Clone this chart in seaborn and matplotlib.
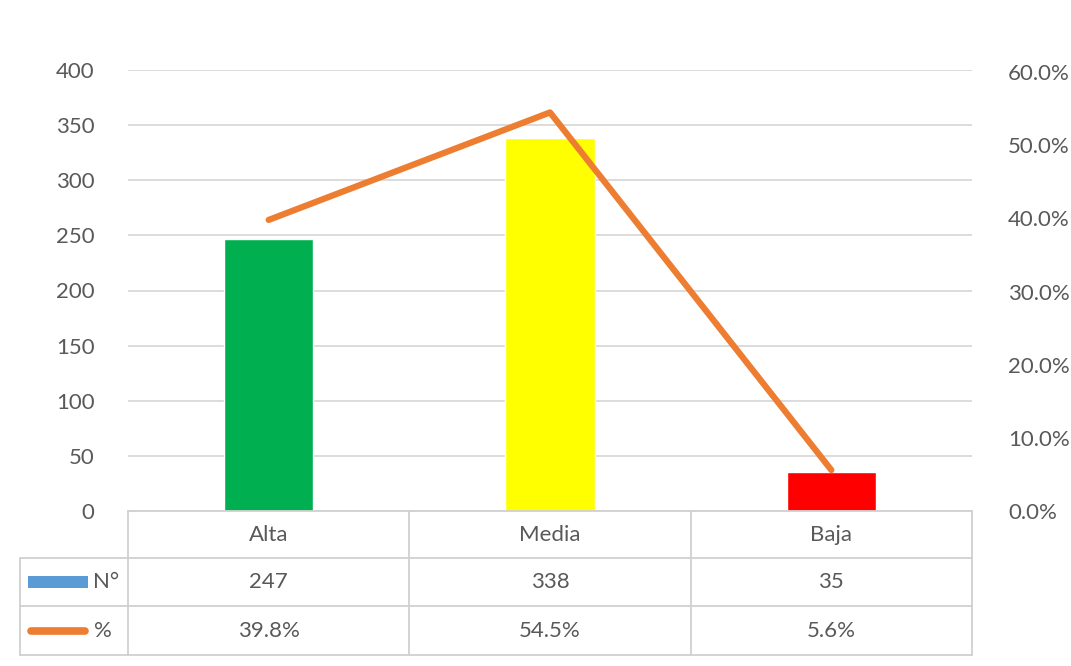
import matplotlib
matplotlib.use("Agg")
import matplotlib.pyplot as plt
import seaborn as sns
import pandas as pd
from matplotlib.lines import Line2D
from matplotlib.patches import Rectangle

categories = ["Alta", "Media", "Baja"]
counts = [247, 338, 35]
percents = [0.398, 0.545, 0.056]
count_labels = ["247", "338", "35"]
percent_labels = ["39.8%", "54.5%", "5.6%"]
bar_colors = ["#00B050", "#FFFF00", "#FF0000"]
series_names = ["N°", "%"]
left_ticks = [0, 50, 100, 150, 200, 250, 300, 350, 400]
right_ticks = [0.0, 0.1, 0.2, 0.3, 0.4, 0.5, 0.6]

sns.set_theme(style="white")
plt.rcParams["font.family"] = ["Lato", "DejaVu Sans"]

TXT = "#595959"
GRID = "#D9D9D9"
ORANGE = "#ED7D31"
BLUE = "#5B9BD5"
FS = 16

df = pd.DataFrame({"cat": categories, "n": counts, "pct": percents})

fig = plt.figure(figsize=(10.71, 6.66), dpi=100)
ax = fig.add_axes([128 / 1071, 1 - 511 / 666, 844 / 1071, 441 / 666])

sns.barplot(data=df, x="cat", y="n", hue="cat", palette=bar_colors,
            width=0.317, legend=False, ax=ax, saturation=1, zorder=2)
ax.set_xlim(-0.5, 2.5)
ax.set_ylim(0, 400)
ax.set_yticks(left_ticks)
ax.set_yticklabels([str(t) for t in left_ticks], color=TXT, fontsize=FS)
ax.yaxis.grid(True, color=GRID, linewidth=1.3, zorder=0)
ax.set_axisbelow(True)
ax.set_xlabel("")
ax.set_ylabel("")
ax.set_xticks([])
ax.tick_params(axis="y", length=0, pad=24)
for s in ax.spines.values():
    s.set_visible(False)

ax2 = ax.twinx()
sns.lineplot(data=df, x="cat", y="pct", color=ORANGE, linewidth=4.5,
             sort=False, ax=ax2, zorder=3)
ax2.set_xlim(-0.5, 2.5)
ax2.set_ylim(0, 0.603)
ax2.set_yticks(right_ticks)
ax2.set_yticklabels([f"{t*100:.1f}%" for t in right_ticks], color=TXT, fontsize=FS)
ax2.tick_params(axis="y", length=0, pad=26)
ax2.set_ylabel("")
ax2.set_xlabel("")
for s in ax2.spines.values():
    s.set_visible(False)

# Data table below the plot area
tr = ax.get_xaxis_transform()
H = 441.0
def yf(px):
    return -(px - 511) / H

tcol = "#D0D0D0"
lw = 1.3
left_edge = -0.5 - 108 / 281.3
ax.add_line(Line2D([-0.5, 2.5], [yf(511), yf(511)], transform=tr, color=tcol, lw=lw, clip_on=False))
for py in [558, 606, 655]:
    ax.add_line(Line2D([left_edge, 2.5], [yf(py), yf(py)], transform=tr, color=tcol, lw=lw, clip_on=False))
for xv in [-0.5, 0.5, 1.5, 2.5]:
    ax.add_line(Line2D([xv, xv], [yf(511), yf(655)], transform=tr, color=tcol, lw=lw, clip_on=False))
ax.add_line(Line2D([left_edge, left_edge], [yf(558), yf(655)], transform=tr, color=tcol, lw=lw, clip_on=False))

for i, c in enumerate(categories):
    ax.text(i, yf(535), c, transform=tr, ha="center", va="center", color=TXT, fontsize=FS)
    ax.text(i, yf(582), count_labels[i], transform=tr, ha="center", va="center", color=TXT, fontsize=FS)
    ax.text(i, yf(631), percent_labels[i], transform=tr, ha="center", va="center", color=TXT, fontsize=FS)

kx0 = -0.5 - 100 / 281.3
kx1 = -0.5 - 40 / 281.3
ax.add_patch(Rectangle((kx0, yf(588)), kx1 - kx0, yf(576) - yf(588), transform=tr,
                       facecolor=BLUE, edgecolor="none", clip_on=False))
ax.add_line(Line2D([kx0 + 0.012, kx1 - 0.012], [yf(631), yf(631)], transform=tr, color=ORANGE,
                   lw=5.5, solid_capstyle="round", clip_on=False))
ax.text(-0.5 - 9 / 281.3, yf(582), series_names[0], transform=tr, ha="right", va="center",
        color=TXT, fontsize=FS)
ax.text(-0.5 - 16 / 281.3, yf(631), series_names[1], transform=tr, ha="right", va="center",
        color=TXT, fontsize=FS)

fig.savefig("out.png", dpi=100, facecolor="white")
